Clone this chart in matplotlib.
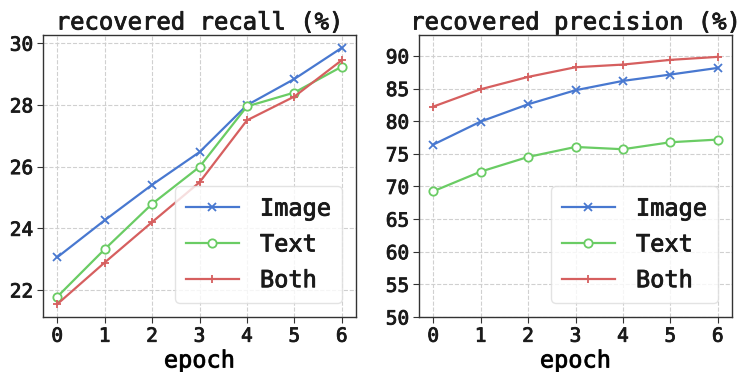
import numpy as np
from matplotlib import pyplot as plt
from matplotlib import patheffects as pe

epochs = [0, 1, 2, 3, 4, 5, 6]
series_names = ["Image", "Text", "Both"]

recall_image = [23.06, 24.26, 25.41, 26.47, 27.99, 28.84, 29.85]
recall_text = [21.78, 23.32, 24.79, 25.99, 27.95, 28.40, 29.24]
recall_both = [21.54, 22.89, 24.20, 25.49, 27.50, 28.27, 29.45]

precision_image = [76.41, 79.94, 82.59, 84.74, 86.17, 87.14, 88.16]
precision_text = [69.26, 72.27, 74.52, 76.05, 75.70, 76.77, 77.18]
precision_both = [82.23, 84.89, 86.78, 88.26, 88.67, 89.39, 89.85]

colours = ["#4878d0", "#6acc64", "#d65f5f"]
markers = ["x", "o", "+"]

plt.rcParams["font.family"] = ["DejaVu Sans Mono"]
plt.rcParams["text.color"] = "#1a1a1a"
plt.rcParams["xtick.labelcolor"] = "#1a1a1a"
plt.rcParams["ytick.labelcolor"] = "#1a1a1a"
plt.rcParams["axes.edgecolor"] = "#333333"
plt.rcParams["axes.linewidth"] = 1.0

# slightly heavier text, like the reference
thick = [pe.withStroke(linewidth=0.6, foreground="#1a1a1a")]

fig = plt.figure(figsize=(7.41, 3.72), dpi=100)
ax1 = fig.add_axes([43 / 741, 1 - 317 / 372, 313 / 741, 282 / 372])
ax2 = fig.add_axes([419 / 741, 1 - 317 / 372, 313 / 741, 282 / 372])

panels = [
    (ax1, "recovered recall (%)", [recall_image, recall_text, recall_both]),
    (ax2, "recovered precision (%)", [precision_image, precision_text, precision_both]),
]

for ax, title, data in panels:
    for name, vals, c, m in zip(series_names, data, colours, markers):
        ax.plot(epochs, vals, color=c, marker=m, markersize=6, linewidth=1.6,
                markerfacecolor="white" if m == "o" else c, markeredgewidth=1.3,
                label=name)
    ax.grid(True, linestyle="--", color="#d0d0d0", linewidth=0.8)
    ax.set_axisbelow(True)
    ax.set_title(title, fontsize=17.2, pad=4, path_effects=thick)
    ax.set_xlabel("epoch", fontsize=17, labelpad=2, path_effects=thick)
    ax.set_xticks(epochs)
    ax.tick_params(labelsize=14, length=4, color="#333333", pad=3)
    for lab in ax.get_xticklabels() + ax.get_yticklabels():
        lab.set_path_effects(thick)
    leg = ax.legend(loc="lower right", fontsize=17, handlelength=2.25, labelspacing=0.5,
                    handletextpad=0.9, borderpad=0.45, borderaxespad=0.6,
                    framealpha=0.8, edgecolor="#dddddd")
    for t in leg.get_texts():
        t.set_path_effects(thick)

ax1.set_yticks([22, 24, 26, 28, 30])
ax2.set_ylim(50, 93.2)
ax2.set_yticks([50, 55, 60, 65, 70, 75, 80, 85, 90])
for lab in ax1.get_yticklabels() + ax2.get_yticklabels():
    lab.set_path_effects(thick)

fig.savefig("out.png", dpi=100)
